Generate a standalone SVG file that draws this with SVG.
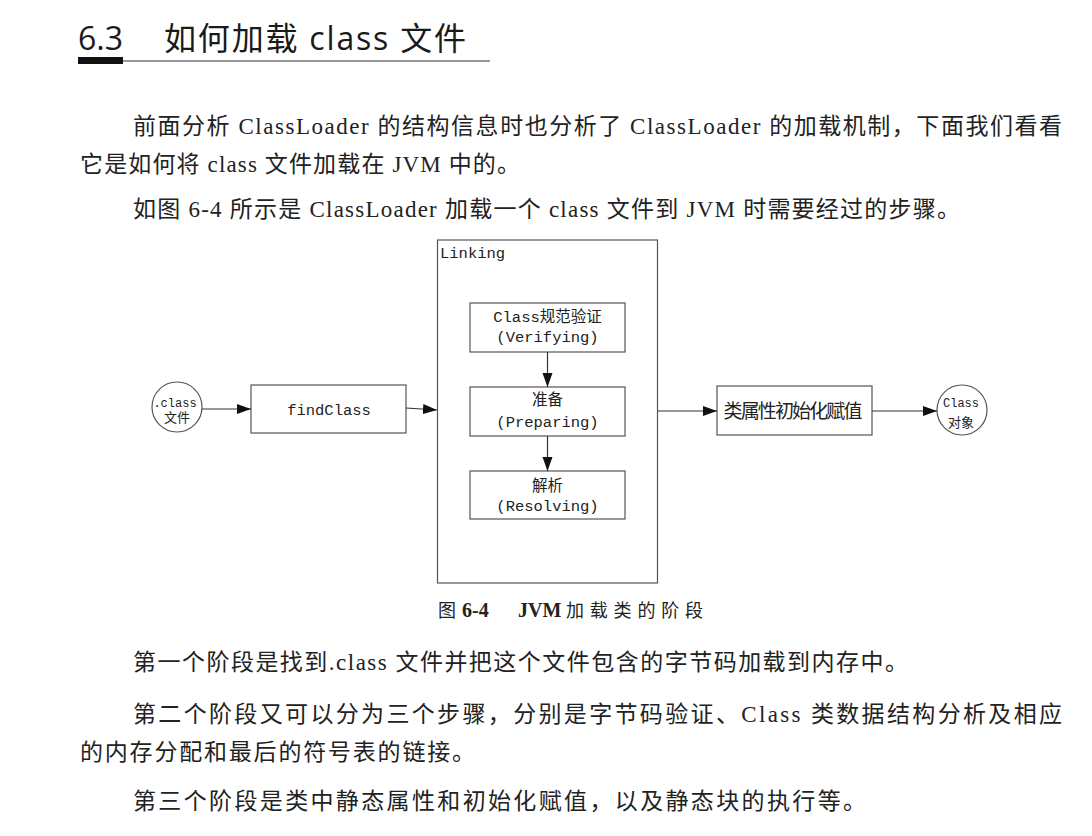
<svg xmlns="http://www.w3.org/2000/svg" width="1092" height="836" viewBox="0 0 1092 836">
<style>
.title{font-family:"Open Sans","Noto Sans CJK SC",sans-serif;font-size:32px;fill:#1a1a1a}
.body{font-family:"Liberation Serif","Noto Sans CJK SC",serif;font-size:23px;fill:#222}
.cap{font-family:"Liberation Serif","Noto Sans CJK SC",serif;font-size:18px;fill:#222}
.mono{font-family:"Liberation Mono","Noto Sans CJK SC",monospace;font-size:15.5px;fill:#222}
.small{font-family:"Liberation Mono","Noto Sans CJK SC",monospace;font-size:12px;fill:#222}
.box{fill:#fff;stroke:#555;stroke-width:1.2}
.conn{stroke:#333;stroke-width:1.2;fill:none}
.mid{text-anchor:middle}
</style>
<defs>
<marker id="ah" markerUnits="userSpaceOnUse" markerWidth="15" markerHeight="11" refX="14" refY="5" orient="auto">
<path d="M0,0 L14,5 L0,10 z" fill="#111"/>
</marker>
</defs>
<rect width="1092" height="836" fill="#fff"/>

<g id="heading">
<text class="title" x="78" y="50">6.3</text>
<text class="title" x="164" y="50" textLength="302" lengthAdjust="spacing">如何加载 class 文件</text>
<line x1="78" y1="61" x2="490" y2="61" stroke="#333" stroke-width="1.2"/>
<rect x="78" y="57" width="45" height="7" fill="#111"/>
</g>

<g id="intro">
<text class="body" x="133" y="134" textLength="929" lengthAdjust="spacing">前面分析 ClassLoader 的结构信息时也分析了 ClassLoader 的加载机制，下面我们看看</text>
<text class="body" x="80" y="172" textLength="440" lengthAdjust="spacing">它是如何将 class 文件加载在 JVM 中的。</text>
<text class="body" x="133" y="217" textLength="827" lengthAdjust="spacing">如图 6-4 所示是 ClassLoader 加载一个 class 文件到 JVM 时需要经过的步骤。</text>
</g>

<g id="linking">
<rect class="box" x="437.5" y="240" width="220" height="343"/>
<text class="mono" x="440" y="258">Linking</text>
</g>

<g id="verifying">
<rect class="box" x="470" y="303" width="155" height="49"/>
<text class="mono mid" x="547.5" y="322">Class规范验证</text>
<text class="mono mid" x="547.5" y="342">(Verifying)</text>
</g>

<g id="preparing">
<rect class="box" x="470" y="387" width="155" height="49"/>
<text class="mono mid" x="547.5" y="405">准备</text>
<text class="mono mid" x="547.5" y="427">(Preparing)</text>
</g>

<g id="resolving">
<rect class="box" x="470" y="471" width="155" height="48"/>
<text class="mono mid" x="547.5" y="491">解析</text>
<text class="mono mid" x="547.5" y="511">(Resolving)</text>
</g>

<g id="classfile">
<circle class="box" cx="177" cy="407" r="25"/>
<text class="small mid" x="175" y="407">.class</text>
<text class="small mid" x="177" y="422" style="font-size:13px">文件</text>
</g>

<g id="findclass">
<rect class="box" x="251" y="385" width="155" height="48"/>
<text class="mono mid" x="329" y="415">findClass</text>
</g>

<g id="init">
<rect class="box" x="717" y="386" width="155" height="49"/>
<text class="mono mid" x="793" y="418" style="font-size:19px" textLength="139" lengthAdjust="spacing">类属性初始化赋值</text>
</g>

<g id="classobj">
<circle class="box" cx="962" cy="410" r="25"/>
<text class="small mid" x="961" y="407">Class</text>
<text class="small mid" x="961" y="427" style="font-size:13px">对象</text>
</g>

<g id="connectors">
<line class="conn" x1="202" y1="409" x2="251" y2="409" marker-end="url(#ah)"/>
<line class="conn" x1="406" y1="408" x2="437" y2="410" marker-end="url(#ah)"/>
<line class="conn" x1="547.5" y1="352" x2="547.5" y2="387" marker-end="url(#ah)"/>
<line class="conn" x1="547.5" y1="436" x2="547.5" y2="471" marker-end="url(#ah)"/>
<line class="conn" x1="658" y1="411" x2="717" y2="411" marker-end="url(#ah)"/>
<line class="conn" x1="872" y1="411" x2="937" y2="411" marker-end="url(#ah)"/>
</g>

<g id="caption">
<text class="cap" x="438" y="617">图</text>
<text class="cap" x="462" y="617" style="font-weight:bold;font-size:20px">6-4</text>
<text class="cap" x="518" y="617" style="font-weight:bold;font-size:20px">JVM</text>
<text class="cap" x="566" y="617" textLength="137" lengthAdjust="spacing">加载类的阶段</text>
</g>

<g id="notes">
<text class="body" x="133" y="670" textLength="775" lengthAdjust="spacing">第一个阶段是找到.class 文件并把这个文件包含的字节码加载到内存中。</text>
<text class="body" x="133" y="722" textLength="929" lengthAdjust="spacing">第二个阶段又可以分为三个步骤，分别是字节码验证、Class 类数据结构分析及相应</text>
<text class="body" x="80" y="760" textLength="395" lengthAdjust="spacing">的内存分配和最后的符号表的链接。</text>
<text class="body" x="133" y="809" textLength="733" lengthAdjust="spacing">第三个阶段是类中静态属性和初始化赋值，以及静态块的执行等。</text>
</g>
</svg>
